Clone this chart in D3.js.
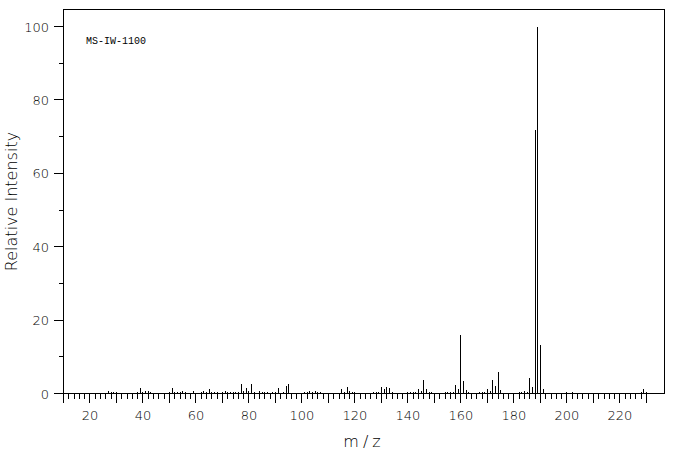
<!DOCTYPE html>
<html>
<head>
<meta charset="utf-8">
<script src="https://cdn.jsdelivr.net/npm/d3@7/dist/d3.min.js"></script>
<style>
  html, body { margin: 0; padding: 0; background: #fff; }
  svg { display: block; }
  text { font-family: "DejaVu Sans", sans-serif; fill: #000; }
</style>
</head>
<body>
<svg id="chart" width="676" height="455"></svg>
<script>
// ---- data ----
const mz = [27,28,29,30,38,39,40,41,42,43,50,51,52,53,54,55,56,59,62,63,64,65,66,67,68,70,71,72,73,74,75,76,77,78,79,80,81,82,84,85,86,87,89,90,91,93,94,95,
  101,102,103,104,105,106,107,115,116,117,118,119,120,127,128,129,130,131,132,133,134,
  140,141,142,143,144,145,146,147,148,149,154,155,156,157,158,159,160,161,162,163,
  167,168,169,170,171,172,173,174,175,182,183,184,185,186,187,188,189,190,191,200,202,228,229,230];
const intensity = [0.8,0.5,0.3,0.3,0.3,1.4,0.3,0.8,0.6,0.3,0.3,1.4,0.5,0.5,0.3,0.6,0.3,0.6,0.3,0.8,0.4,1.1,0.5,0.3,0.3,0.3,0.8,0.3,0.3,0.3,0.3,0.3,2.5,0.6,1.4,0.8,2.7,0.5,0.8,0.5,0.3,0.5,0.5,0.3,1.4,0.5,2.0,2.5,
  0.3,0.3,0.8,0.5,0.8,0.3,0.3,1.1,0.5,1.9,0.8,0.3,0.3,0.3,0.5,0.3,1.9,1.1,1.9,1.6,0.5,
  0.3,0.3,0.5,0.5,1.1,0.8,3.8,1.1,0.3,0.3,0.5,0.3,0.5,0.3,2.2,1.1,15.9,3.4,0.9,0.5,
  0.4,0.4,0.4,1.2,0.6,3.6,2.0,5.8,0.9,0.4,0.4,0.7,0.4,4.2,1.7,71.8,100,13.2,1.2,0.4,0.4,0.4,1.2,0.4];
const xTickLabels = [20,40,60,80,100,120,140,160,180,200,220];
const yTickLabels = [0,20,40,60,80,100];
const xTitle = "m/z";
const yTitle = "Relative Intensity";
const sampleId = "MS-IW-1100";

// ---- layout ----
const svg = d3.select("#chart");
const L = 63.5, R = 664.5, T = 9.5, B = 393.5;
const x = d3.scaleLinear().domain([10, 236.8]).range([L, R]);
const y = d3.scaleLinear().domain([0, 100]).range([B, 26.5]);
const px = v => Math.round(x(v) - 0.5) + 0.5;
const py = v => Math.round(y(v) - 0.5) + 0.5;

const g = svg.append("g").attr("shape-rendering", "crispEdges").attr("stroke", "#000").attr("stroke-width", 1);

// frame
g.append("path").attr("fill", "none")
  .attr("d", `M${L},${B}V${T}H${R}V${B}H${L}`);

// x ticks
const xt = d3.range(10, 231, 2);
g.selectAll("line.xt").data(xt).join("line").attr("class", "xt")
  .attr("x1", d => px(d)).attr("x2", d => px(d))
  .attr("y1", B).attr("y2", d => B + (d % 10 === 0 ? 9 : 5));

// y ticks
const yt = d3.range(0, 101, 10);
g.selectAll("line.yt").data(yt).join("line").attr("class", "yt")
  .attr("y1", d => py(d)).attr("y2", d => py(d))
  .attr("x1", L).attr("x2", d => L - (d % 20 === 0 ? 10 : 5));

// peaks
g.selectAll("line.pk").data(mz.map((m, i) => ({m, v: intensity[i]}))).join("line").attr("class", "pk")
  .attr("x1", d => px(d.m)).attr("x2", d => px(d.m))
  .attr("y1", B).attr("y2", d => y(d.v));

// labels
svg.selectAll("text.xl").data(xTickLabels).join("text").attr("class", "xl")
  .attr("x", d => x(d)).attr("y", 420).attr("text-anchor", "middle")
  .attr("font-size", 13).attr("font-weight", 200).text(d => d);
svg.selectAll("text.yl").data(yTickLabels).join("text").attr("class", "yl")
  .attr("x", 49).attr("y", d => y(d) + 5).attr("text-anchor", "end")
  .attr("font-size", 13).attr("font-weight", 200).text(d => d);

svg.append("text").attr("x", (L + R) / 2).attr("y", 447).attr("text-anchor", "middle")
  .attr("font-size", 16).attr("font-weight", 200).attr("letter-spacing", 4).text(xTitle);
svg.append("text").attr("transform", `translate(17,${(T + B) / 2}) rotate(-90)`)
  .attr("text-anchor", "middle").attr("font-size", 16).attr("font-weight", 200).text(yTitle);
svg.append("text").attr("x", 86).attr("y", 44)
  .style("font-family", "'Liberation Mono', monospace").attr("font-size", 10).text(sampleId);
</script>
</body>
</html>
